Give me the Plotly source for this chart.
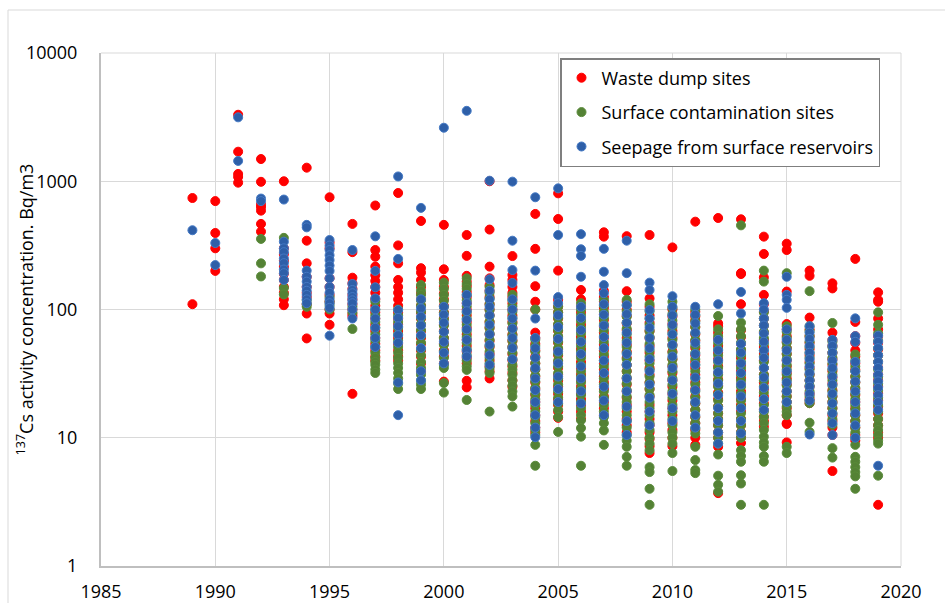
import plotly.graph_objects as go

# Waste dump sites (red)
RED = {
    1989: [740, 110],
    1990: [700, 395, 300, 200],
    1991: [3300, 1700, 1140, 1080, 975],
    1992: [1490, 990, 660, 630, 590, 465, 405],
    1993: [1000, 300, 270, 240, 215, 190, 170, 150, 135, 120, 108],
    1994: [1276, 344, 229, 180, 150, 135, 125, 110, 93, 59.5],
    1995: [750, 332, 300, 175, 150, 130, 115, 100, 93, 76],
    1996: [465, 280, 177, 160, 145, 130, 120, 110, 100, 92, 88, 22],
    1997: [647, 291, 258, 216, 185, 167, 150, 135, 120, 107, 95, 85, 76, 68, 60, 54, 48, 43, 40],
    1998: [810, 316, 229, 170, 150, 135, 120, 107, 95, 85, 76, 68, 60, 54, 48, 43, 40],
    1999: [490, 210, 194, 170, 150, 133, 120, 107, 95, 85, 76, 68, 60, 54, 48, 43, 38, 33],
    2000: [457, 206, 170, 150, 133, 120, 107, 95, 85, 76, 68, 60, 54, 48, 43, 38, 27.4],
    2001: [381, 262, 183, 165, 152, 137, 125, 112, 100, 90, 80, 72, 64, 58, 52, 47, 42, 38, 27.8, 24.7],
    2002: [1000, 420, 216, 175, 155, 140, 125, 110, 100, 90, 80, 72, 64, 57, 51, 45, 40, 36, 33, 29],
    2003: [261, 186, 170, 150, 135, 125, 112, 100, 90, 80, 72, 64, 57, 51, 45, 40, 36, 32, 28, 25],
    2004: [556, 297, 152, 115, 100, 66, 60, 54, 48, 43, 38, 34, 30, 27, 24, 21.5, 19, 17, 15, 13.5, 12, 11],
    2005: [805, 508, 201, 119, 105, 95, 85, 76, 68, 61, 55, 49, 44, 39, 35, 31, 28, 25, 22, 20, 18, 16, 14.3],
    2006: [142, 120, 105, 95, 85, 76, 68, 61, 55, 49, 44, 39, 35, 31, 28, 25, 22, 20, 18, 16, 14],
    2007: [400, 370, 140, 125, 115, 103, 92, 83, 74, 66, 60, 53, 48, 43, 38, 34, 30, 27, 24, 21, 19, 17, 15],
    2008: [373, 139, 115, 100, 89, 78, 69, 60, 53, 47, 42, 37, 33, 29, 26, 23, 20.5, 18, 16, 14, 12.5, 11],
    2009: [381, 122, 105, 90, 79, 68, 60, 52, 46, 40, 35, 31, 27, 24, 21, 18, 16, 14, 12.5, 11, 9.8, 8.6, 7.6],
    2010: [305, 100, 88, 77, 68, 60, 53, 47, 41, 36, 32, 28, 25, 22, 19.5, 17, 15, 13, 11.5, 10, 8.6],
    2011: [484, 96, 88, 82, 73, 64, 57, 50, 44, 39, 35, 31, 27, 24, 21, 18.5, 16.5, 14.5, 13, 11.5, 10, 8.8],
    2012: [517, 78, 74, 66, 59, 52, 46, 41, 36, 32, 28.5, 25.5, 22.5, 20, 17.5, 15.5, 14, 12.5, 11, 10, 8.5, 3.7],
    2013: [505, 192, 189, 110, 69, 61, 54, 48, 42, 37, 33, 29, 26, 23, 20, 18, 16, 14, 12.5, 11, 10, 9.1],
    2014: [370, 271, 178, 130, 110, 97, 85, 75, 66, 58, 51, 45, 40, 35, 31, 27, 24, 21, 18.5, 16.5, 14.6, 13.5, 12.2],
    2015: [326, 291, 138, 77, 70, 62, 56, 50, 45, 40, 36, 32, 29, 26, 23, 21, 19, 17, 15, 13, 12.8, 9.2],
    2016: [201, 183, 86.5, 70, 62, 55, 49, 44, 39, 35, 31, 28, 25, 22, 20, 18.6],
    2017: [160, 146, 66, 58, 52, 46, 41, 37, 33, 29.5, 26.5, 23.5, 21, 19, 17, 15, 13.5, 12, 10.5, 5.5],
    2018: [248, 80, 62, 55, 48, 43, 38, 34, 30, 27, 24, 21.5, 19, 17, 15, 13.5, 12, 10.5, 9.5],
    2019: [136, 119, 115, 85, 70, 62, 55, 49, 44, 39, 35, 31, 28, 25, 22, 19.5, 17.5, 15.5, 14, 12.5, 11, 10, 3.0],
}

# Surface contamination sites (green)
GREEN = {
    1992: [355, 229, 181],
    1993: [362, 147, 131],
    1994: [118, 110, 105],
    1995: [125, 115, 108, 100],
    1996: [105, 95, 70.5],
    1997: [115, 100, 90, 80, 72, 64, 57, 51, 46, 42, 39, 37, 34, 32],
    1998: [100, 90, 80, 72, 64, 57, 51, 46, 42, 38, 35, 32, 29, 26.5, 24],
    1999: [155, 140, 130, 118, 107, 96, 86, 77, 69, 62, 55, 49, 44, 39, 35, 31, 28, 26, 24],
    2000: [162, 145, 130, 117, 105, 94, 84, 75, 67, 60, 53, 47, 42, 37, 35, 26.7, 22.5],
    2001: [175, 158, 145, 130, 118, 106, 95, 85, 76, 68, 61, 55, 49, 44, 40, 36, 33.8, 19.7],
    2002: [150, 135, 122, 110, 99, 89, 80, 72, 65, 58, 52, 47, 42, 38, 35, 32, 16],
    2003: [130, 118, 106, 96, 86, 78, 70, 63, 57, 51, 46, 41, 37, 34, 31, 28, 25.5, 23, 21, 17.5],
    2004: [100, 58, 52, 47, 42, 38, 34, 30.5, 27.5, 24.5, 22, 20, 18, 16, 14.5, 13, 11.5, 10.5, 8.8, 6.05],
    2005: [105, 95, 86, 77, 69, 62, 56, 50, 45, 40, 36, 32, 29, 26, 23, 20.5, 18.5, 16.5, 14.5, 11.1],
    2006: [112, 100, 90, 81, 72, 65, 58, 52, 47, 42, 37, 33, 30, 27, 24, 21.5, 19, 17, 15, 13.7, 11.9, 10.2, 6.05],
    2007: [119, 107, 96, 86, 77, 69, 62, 56, 50, 45, 40, 36, 32, 29, 26, 23, 20.5, 18, 16, 14.5, 13, 11.4, 8.8],
    2008: [119, 108, 97, 88, 79, 71, 64, 57, 51, 46, 41, 37, 33, 29.5, 26.5, 23.5, 21, 19, 17, 15, 13.5, 12, 10.5, 9.5, 8.5, 7.1, 6.05],
    2009: [110, 97, 85, 76, 68, 61, 54, 48, 43, 38, 34, 30, 27, 24, 21.5, 19, 17, 15, 13, 11.5, 10, 9, 8, 5.9, 5.4, 4.0, 3.0],
    2010: [115, 103, 92, 82, 73, 65, 58, 52, 46, 41, 37, 33, 29, 26, 23, 20.5, 18, 16, 14, 12.5, 11, 10, 9, 7.6, 5.5],
    2011: [100, 90, 81, 73, 65, 58, 52, 46, 41, 37, 33, 29, 26, 23, 20.5, 18.5, 16.5, 14.5, 13, 11.8, 10.8, 8.5, 6.7, 5.6, 5.3],
    2012: [89, 70, 62, 55, 49, 44, 39, 35, 31, 28, 25, 22, 19.5, 17.5, 15.5, 14, 12.5, 11, 10, 9, 7.4, 5.06, 4.3, 3.8],
    2013: [453, 79, 70, 62, 55, 49, 44, 39, 35, 31, 28, 25, 22, 19.5, 17.5, 15.5, 14, 12.5, 11, 10, 8, 7.2, 6.5, 5.1, 4.4, 3.0],
    2014: [201, 165, 95, 85, 75, 67, 60, 54, 48, 43, 39, 35, 31, 28, 25, 22.5, 20, 18, 16, 14.5, 13, 11.5, 10.2, 9.2, 8.5, 7.2, 6.5, 3.0],
    2015: [192, 74, 67, 60, 55, 50, 45, 41, 37, 34, 31, 28, 25.5, 23, 21, 19, 17.5, 16, 15, 8.5, 7.6],
    2016: [139, 74, 68, 62, 56, 51, 46, 42, 38, 34, 31, 28, 25.5, 23, 21, 19.5, 18.6, 13.1, 11.1],
    2017: [78.5, 56, 51, 46, 42, 38, 34, 31, 28, 25.5, 23, 21, 19, 17, 15.5, 14, 12.6, 8.3, 7.0],
    2018: [44.6, 40, 36, 33, 30, 27, 24.5, 22, 20, 18, 16.5, 15, 13.5, 12, 11, 10, 8.8, 7.1, 6.5, 5.9, 5.4, 5.0, 4.0],
    2019: [95, 76, 65, 57, 50, 44, 39, 34, 30, 26.5, 23.5, 20.5, 18, 16, 14, 12.5, 11.5, 10.5, 9.5, 9, 5.06],
}

# Seepage from surface reservoirs (blue)
BLUE = {
    1989: [415],
    1990: [330, 222],
    1991: [3150, 1440],
    1992: [733, 700],
    1993: [720, 338, 300, 280, 250, 230, 205, 192, 170],
    1994: [457, 437, 201, 180, 165, 150, 140, 130, 120, 112],
    1995: [348, 315, 291, 265, 243, 220, 200, 175, 150, 135, 120, 112, 103, 62.5],
    1996: [291, 158, 142, 134, 125, 118, 112, 100, 85],
    1997: [372, 200, 149, 122, 100, 85, 72, 60, 51],
    1998: [1090, 248, 99, 86, 74, 63, 55, 27, 15],
    1999: [620, 120, 102, 88, 75, 63, 50, 33, 28],
    2000: [2614, 105, 91, 79, 67, 56, 46, 38],
    2001: [3540, 130, 112, 97, 83, 70, 58, 48, 43],
    2002: [1010, 172, 140, 120, 105, 90, 76, 64, 53, 44, 37],
    2003: [993, 344, 203, 161, 120, 100, 85, 71, 60, 50, 41],
    2004: [750, 201, 85, 60, 50, 42, 35, 29, 23.5, 19, 15, 12, 10.1],
    2005: [880, 381, 125, 112, 90, 73, 59, 47, 38, 30, 24, 19],
    2006: [387, 295, 262, 180, 105, 86, 69, 56, 45, 36, 29, 23, 18.5],
    2007: [297, 197, 155, 134, 110, 91, 75, 61, 50, 40, 32, 25, 19.5, 15],
    2008: [344, 192, 108, 92, 79, 66, 55, 45, 37, 29, 23, 17.5, 13.5, 10.5],
    2009: [162, 142, 99, 85, 72, 60, 50, 41, 33, 26, 20.5, 16, 12.5],
    2010: [127, 105, 90, 76, 64, 53, 43, 35, 28, 22, 17, 13.5],
    2011: [105, 91, 78, 66, 55, 45, 37, 29.5, 23.5, 19, 15, 12],
    2012: [110, 58, 48, 40, 32.5, 26.5, 21.5, 17, 13.5, 11, 9],
    2013: [137, 93, 54, 46, 38, 32, 26, 21, 17, 13.5, 10.8],
    2014: [112, 100, 85, 75, 65, 56, 48, 42, 35, 29.5, 24.5, 20, 16.5],
    2015: [180, 130, 119, 103, 70, 58, 48, 40, 33, 27, 23, 19],
    2016: [74, 66, 59, 52, 46, 41, 36, 32, 28, 25, 22, 19.5, 10.6],
    2017: [58, 52, 46, 40, 35, 30, 26, 22, 18.5, 15.5, 13, 10.5],
    2018: [85.3, 62, 56, 39, 33, 27.5, 23, 19, 15.5, 12.5, 10],
    2019: [62.5, 56, 50, 44, 39, 35, 31, 27.5, 24.5, 21.5, 19, 16.5, 6.05],
}

SERIES = [
    ("Waste dump sites", RED, "#FF0000", "#FF0000"),
    ("Surface contamination sites", GREEN, "#548235", "#5A8B3A"),
    ("Seepage from surface reservoirs", BLUE, "#2E5FA8", "#4479C4"),
]

X_TICKS = [1985, 1990, 1995, 2000, 2005, 2010, 2015, 2020]
Y_TICKS = [1, 10, 100, 1000, 10000]
Y_TICK_TEXT = ["1", "10", "100", "1000", "10000"]

FONT = "Open Sans, Lato, Liberation Sans, sans-serif"

fig = go.Figure()
for i, (name, data, fill, edge) in enumerate(SERIES):
    xs, ys = [], []
    for year, vals in data.items():
        for v in vals:
            xs.append(year)
            ys.append(v)
    fig.add_trace(go.Scatter(
        x=xs, y=ys, mode="markers", name=name, legendgroup=f"g{i}",
        marker=dict(size=9, color=fill, line=dict(color=edge, width=1)),
    ))

W, H = 945, 603
L, R, T, B = 101, 44, 53, 37
pw, ph = W - L - R, H - T - B

def px_x(px):
    return (px - L) / pw

def px_y(py):
    return (H - B - py) / ph

fig.update_layout(
    width=W, height=H,
    margin=dict(l=L, r=R, t=T, b=B, autoexpand=False),
    paper_bgcolor="white", plot_bgcolor="white",
    font=dict(family=FONT, size=18, color="#000000"),
    showlegend=True,
    legend=dict(
        x=px_x(560), y=px_y(58), xanchor="left", yanchor="top",
        bgcolor="white", bordercolor="#7F7F7F", borderwidth=1.5,
        font=dict(family=FONT, size=18, color="#000000"),
        tracegroupgap=8,
    ),
    xaxis=dict(
        range=[1985, 2020], tickvals=X_TICKS, ticktext=[str(t) for t in X_TICKS],
        showgrid=True, gridcolor="#D9D9D9", gridwidth=1,
        showline=True, linecolor="#BFBFBF", linewidth=2,
        zeroline=False, ticks="", ticklabelstandoff=8, automargin=False,
    ),
    yaxis=dict(
        type="log", range=[0, 4], tickvals=Y_TICKS, ticktext=Y_TICK_TEXT,
        showgrid=True, gridcolor="#D9D9D9", gridwidth=1,
        showline=True, linecolor="#BFBFBF", linewidth=2,
        zeroline=False, ticks="", ticklabelstandoff=18, automargin=False,
    ),
    shapes=[
        dict(type="rect", xref="paper", yref="paper",
             x0=px_x(8), x1=px_x(960), y0=px_y(620), y1=px_y(10),
             line=dict(color="#D9D9D9", width=1), fillcolor="rgba(0,0,0,0)",
             layer="below"),
        dict(type="line", xref="paper", yref="paper",
             x0=0, x1=1, y0=1, y1=1, line=dict(color="#D9D9D9", width=1), layer="below"),
        dict(type="line", xref="paper", yref="paper",
             x0=1, x1=1, y0=0, y1=1, line=dict(color="#D9D9D9", width=1), layer="below"),
    ],
    annotations=[
        dict(text="<sup>137</sup>Cs activity concentration. Bq/m3",
             xref="paper", yref="paper", x=px_x(25), y=0.5,
             xanchor="center", yanchor="middle", textangle=-90,
             showarrow=False, font=dict(family=FONT, size=18, color="#000000")),
    ],
)

fig.write_html("out.html")
